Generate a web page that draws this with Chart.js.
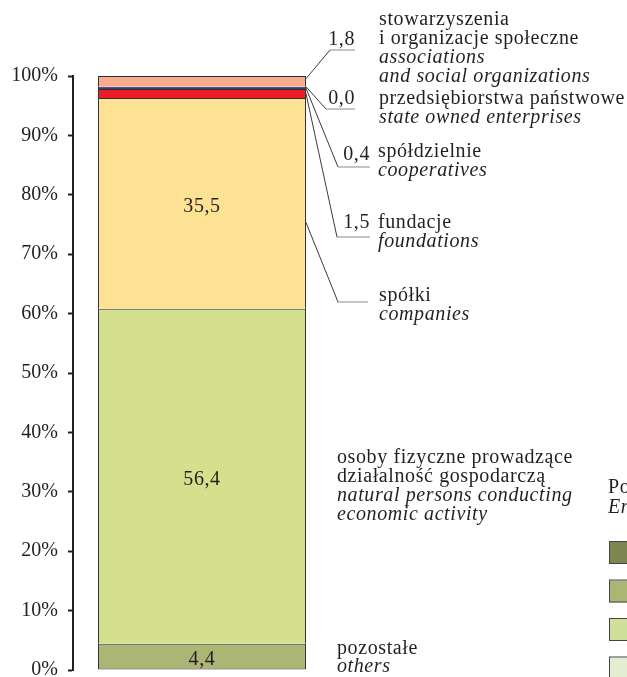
<!DOCTYPE html>
<html>
<head>
<meta charset="utf-8">
<script src="https://cdn.jsdelivr.net/npm/chart.js@4.4.1/dist/chart.umd.min.js"></script>
<style>
  html, body { margin: 0; padding: 0; background: #fff; overflow: hidden; }
  canvas { display: block; }
</style>
</head>
<body>
<canvas id="chart" width="627" height="690"></canvas>
<script>
// dane (bottom -> top of the stacked bar)
const categories = [''];
const values = [4.4, 56.4, 35.5, 1.5, 0.4, 0.0, 1.8];
const namesPl = [
  'pozostałe',
  'osoby fizyczne prowadzące\ndziałalność gospodarczą',
  'spółki',
  'fundacje',
  'spółdzielnie',
  'przedsiębiorstwa państwowe',
  'stowarzyszenia\ni organizacje społeczne'
];
const namesEn = [
  'others',
  'natural persons conducting\neconomic activity',
  'companies',
  'foundations',
  'cooperatives',
  'state owned enterprises',
  'associations\nand social organizations'
];
const colors = ['#adb574', '#d4e08c', '#fee293', '#ed1c24', '#2e3a9c', '#1b1f5c', '#f9ab90'];
const yTicks = [0, 10, 20, 30, 40, 50, 60, 70, 80, 90, 100];

// legenda obok (ucięta na krawędzi)
const sideTitle = ['Podmioty', 'Entities'];
const sideColors = ['#7d8550', '#adb574', '#cfe09a', '#e4edd0'];

const FONT = "'Liberation Serif', 'Times New Roman', serif";
const INK = '#231f20';

function fmt(v) {
  return v.toFixed(1).replace('.', ',');
}

// where labels go (layout only)
const labelLayout = [
  { text: [337, 649], lh: 18 },
  { text: [337, 458] },
  { text: [379, 296], at: 0.41, elbow: [338, 302], end: 368 },
  { text: [378, 223], at: 0.5, elbow: [337, 237], end: 370, num: [370, 223] },
  { text: [378, 152], at: 0.4, elbow: [338, 167], end: 370, num: [370, 155] },
  { text: [379, 99], at: 0, elbow: [326, 109], end: 355, num: [355, 99] },
  { text: [379, 20], at: 0.75, elbow: [330, 50], end: 355, num: [355, 40] }
];

const labelsPlugin = {
  id: 'labels',
  afterDatasetsDraw(chart) {
    const ctx = chart.ctx;
    const y = chart.scales.y;
    ctx.save();
    ctx.textBaseline = 'middle';
    ctx.fillStyle = INK;
    ctx.letterSpacing = '0.6px';

    let cum = 0;
    values.forEach((v, i) => {
      const bar = chart.getDatasetMeta(i).data[0];
      const lay = labelLayout[i];
      const right = bar.x + bar.width / 2;

      // value inside bar for big segments
      if (v >= 4) {
        ctx.font = '20px ' + FONT;
        ctx.textAlign = 'center';
        ctx.fillText(fmt(v), bar.x, y.getPixelForValue(cum + v / 2) + 3);
      }

      // leader line
      if (lay.elbow) {
        const sy = y.getPixelForValue(cum + v * lay.at);
        ctx.strokeStyle = '#3a3a3a';
        ctx.lineWidth = 1;
        ctx.beginPath();
        ctx.moveTo(right, sy);
        ctx.lineTo(lay.elbow[0], lay.elbow[1]);
        ctx.stroke();
        ctx.strokeStyle = '#8a8a8a';
        ctx.beginPath();
        ctx.moveTo(lay.elbow[0], lay.elbow[1]);
        ctx.lineTo(lay.end, lay.elbow[1]);
        ctx.stroke();
      }
      if (lay.num) {
        ctx.font = '20px ' + FONT;
        ctx.textAlign = 'right';
        ctx.fillText(fmt(v), lay.num[0], lay.num[1]);
      }

      // names
      const lh = lay.lh || 19;
      let ty = lay.text[1];
      ctx.textAlign = 'left';
      ctx.font = '20px ' + FONT;
      namesPl[i].split('\n').forEach(line => {
        ctx.fillText(line, lay.text[0], ty);
        ty += lh;
      });
      ctx.font = 'italic 20px ' + FONT;
      namesEn[i].split('\n').forEach(line => {
        ctx.fillText(line, lay.text[0], ty);
        ty += lh;
      });

      cum += v;
    });

    // side legend (cut at the edge)
    ctx.textAlign = 'left';
    ctx.font = '20px ' + FONT;
    ctx.fillText(sideTitle[0], 608, 488);
    ctx.font = 'italic 20px ' + FONT;
    ctx.fillText(sideTitle[1], 608, 508);
    sideColors.forEach((c, k) => {
      const top = 542 + k * 38.5;
      ctx.fillStyle = c;
      ctx.fillRect(610, top, 30, 22);
      ctx.strokeStyle = '#444';
      ctx.lineWidth = 1;
      ctx.strokeRect(609.5, top - 0.5, 30, 22);
    });
    ctx.restore();
  }
};

const datasets = values.map((v, i) => ({
  label: namesPl[i],
  data: [v],
  backgroundColor: colors[i],
  borderColor: '#2f2f2f',
  borderWidth: { top: 1, bottom: i === 0 ? 1 : 0, left: 1, right: 1 },
  borderSkipped: false,
  barPercentage: 0.806,
  categoryPercentage: 1
}));

new Chart(document.getElementById('chart'), {
  type: 'bar',
  data: { labels: categories, datasets: datasets },
  options: {
    responsive: false,
    animation: false,
    layout: { padding: { left: 0, top: 76, right: 296, bottom: 20 } },
    plugins: {
      legend: { display: false },
      tooltip: { enabled: false }
    },
    scales: {
      x: { stacked: true, display: false },
      y: {
        stacked: true,
        min: 0,
        max: 100,
        afterFit: s => { s.width = 73; s.paddingTop = 0; s.paddingBottom = 0; },
        afterBuildTicks: s => { s.ticks = yTicks.map(v => ({ value: v })); },
        border: { display: true, color: INK, width: 2 },
        grid: { drawOnChartArea: false, drawTicks: true, tickLength: 5, tickWidth: 2, tickColor: INK },
        ticks: {
          padding: 10,
          color: INK,
          font: { family: FONT, size: 20 },
          callback: v => v + '%'
        }
      }
    }
  },
  plugins: [labelsPlugin]
});
</script>
</body>
</html>
